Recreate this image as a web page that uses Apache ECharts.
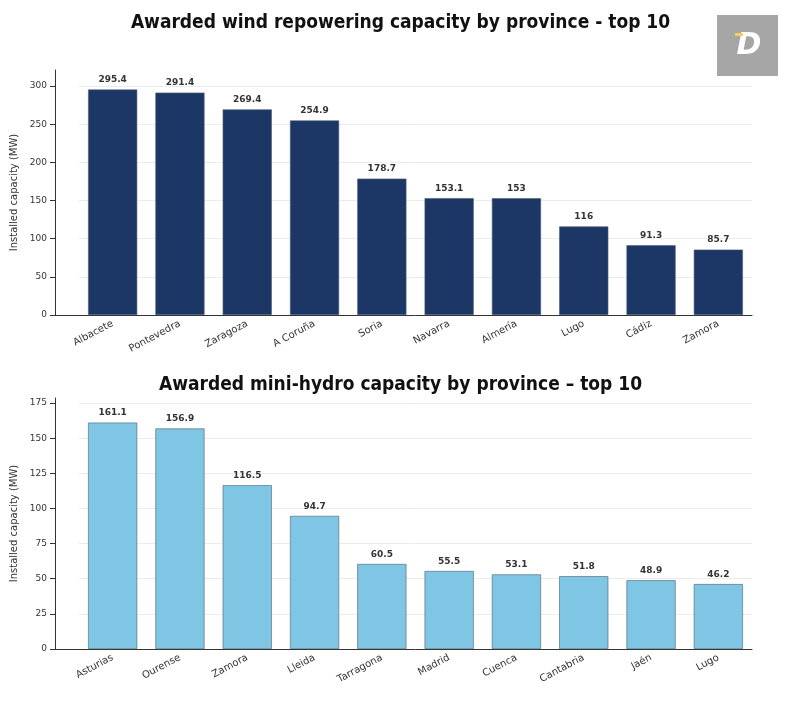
<!DOCTYPE html>
<html><head><meta charset="utf-8">
<script src="https://cdn.jsdelivr.net/npm/echarts@6/dist/echarts.min.js"></script>
<style>html,body{margin:0;padding:0;background:#fff}#c{width:801px;height:720px}</style>
</head><body><div id="c"></div>
<script>
var windProvinces = ['Albacete', 'Pontevedra', 'Zaragoza', 'A Coruña', 'Soria', 'Navarra', 'Almería', 'Lugo', 'Cádiz', 'Zamora']
var windValues = [295.4, 291.4, 269.4, 254.9, 178.7, 153.1, 153, 116, 91.3, 85.7]
var hydroProvinces = ['Asturias', 'Ourense', 'Zamora', 'Lleida', 'Tarragona', 'Madrid', 'Cuenca', 'Cantabria', 'Jaén', 'Lugo']
var hydroValues = [161.1, 156.9, 116.5, 94.7, 60.5, 55.5, 53.1, 51.8, 48.9, 46.2]

var font = 'DejaVu Sans'
var chart = echarts.init(document.getElementById('c'))

function xAxis(idx, cats) {
  return {
    type: 'category', gridIndex: idx, data: cats,
    axisLine: { lineStyle: { color: '#333' } },
    axisTick: { alignWithLabel: true, lineStyle: { color: '#333' } },
    axisLabel: { rotate: 28, fontSize: 10, color: '#333', fontFamily: font, margin: 8 }
  }
}
function yAxis(idx, max) {
  return {
    type: 'value', gridIndex: idx, min: 0, max: max, interval: max > 200 ? 50 : 25,
    offset: 24,
    name: 'Installed capacity (MW)', nameLocation: 'middle', nameGap: 23,
    nameTextStyle: { fontSize: 10, color: '#333', fontFamily: font },
    axisLine: { show: true, lineStyle: { color: '#333' } },
    axisTick: { show: true, lineStyle: { color: '#333' } },
    axisLabel: { fontSize: 9, color: '#333', fontFamily: font, showMaxLabel: false },
    splitLine: { showMaxLine: false, lineStyle: { color: '#ececec' } }
  }
}
function bars(idx, vals, color) {
  return {
    type: 'bar', xAxisIndex: idx, yAxisIndex: idx, data: vals, barWidth: '73%',
    itemStyle: { color: color, borderColor: '#4d6070', borderWidth: 0.6 },
    label: { show: true, position: 'top', fontSize: 9, fontWeight: 'bold', color: '#333', fontFamily: font, distance: 5 }
  }
}

chart.setOption({
  animation: false,
  title: [
    { text: 'Awarded wind repowering capacity by province - top 10', left: 'center', top: 9,
      textStyle: { fontSize: 19, fontWeight: 'bold', color: '#111', fontFamily: 'DejaVu Sans Condensed' } },
    { text: 'Awarded mini-hydro capacity by province – top 10', left: 'center', top: 371,
      textStyle: { fontSize: 19, fontWeight: 'bold', color: '#111', fontFamily: 'DejaVu Sans Condensed' } }
  ],
  graphic: [
    { type: 'rect', shape: { x: 717, y: 15, width: 61, height: 61 }, style: { fill: '#a6a6a6' } },
    { type: 'text', style: { x: 749, y: 46, text: 'D', fill: '#fff', fontSize: 30, fontWeight: 'bold', fontStyle: 'italic', fontFamily: font, align: 'center', verticalAlign: 'middle' } },
    { type: 'rect', shape: { x: 735, y: 33, width: 8, height: 3 }, style: { fill: '#f0d060' } },
    { type: 'line', shape: { x1: 55, y1: 315.5, x2: 80, y2: 315.5 }, style: { stroke: '#333', lineWidth: 1 } },
    { type: 'line', shape: { x1: 55, y1: 649.5, x2: 80, y2: 649.5 }, style: { stroke: '#333', lineWidth: 1 } }
  ],
  grid: [
    { left: 79, right: 49, top: 70, height: 245 },
    { left: 79, right: 49, top: 398, height: 251 }
  ],
  xAxis: [xAxis(0, windProvinces), xAxis(1, hydroProvinces)],
  yAxis: [yAxis(0, 321), yAxis(1, 178.6)],
  series: [bars(0, windValues, '#1c3766'), bars(1, hydroValues, '#7ec6e3')]
})
</script></body></html>
